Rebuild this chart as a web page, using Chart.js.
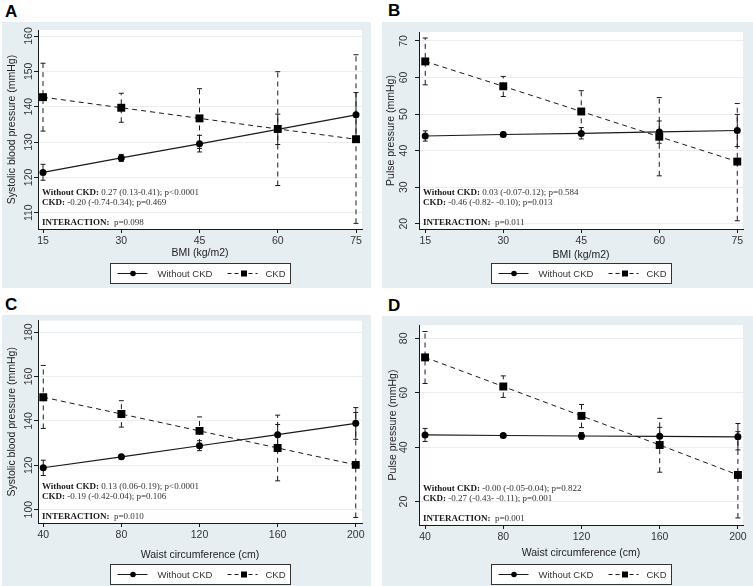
<!DOCTYPE html>
<html>
<head>
<meta charset="utf-8">
<script src="https://cdn.jsdelivr.net/npm/chart.js@4.4.1/dist/chart.umd.min.js"></script>
<style>
  body { margin: 0; width: 753px; height: 586px; position: relative; overflow: hidden; background: #fff; font-family: "Liberation Sans", Arial, sans-serif; }
  .lbl { position: absolute; font-weight: bold; font-size: 17px; color: #000; line-height: 17px; }
  .box { position: absolute; background: #e7eef2; }
</style>
</head>
<body>
<div class="lbl" style="left:5px;top:3px">A</div>
<div class="lbl" style="left:388px;top:2px">B</div>
<div class="lbl" style="left:5px;top:296px">C</div>
<div class="lbl" style="left:388px;top:297px">D</div>
<div class="box" style="left:2px;top:22px;width:369px;height:266px"><canvas id="chartA"></canvas></div>
<div class="box" style="left:382px;top:22px;width:371px;height:266px"><canvas id="chartB"></canvas></div>
<div class="box" style="left:2px;top:315px;width:369px;height:271px"><canvas id="chartC"></canvas></div>
<div class="box" style="left:382px;top:316px;width:371px;height:270px"><canvas id="chartD"></canvas></div>
<script>
// x categories
const bmi = [15, 30, 45, 60, 75];
const waist = [40, 80, 120, 160, 200];

// tick labels
const bmiTicks = [15, 30, 45, 60, 75];
const waistTicks = [40, 80, 120, 160, 200];
const sbpBmiTicks = [110, 120, 130, 140, 150, 160];
const ppBmiTicks = [20, 30, 40, 50, 60, 70];
const sbpWaistTicks = [100, 120, 140, 160, 180];
const ppWaistTicks = [20, 40, 60, 80];

// A: systolic BP by BMI
const sbpBmiNo = [121.4, 125.5, 129.5, 133.6, 137.7];
const sbpBmiNoLo = [119.2, 124.5, 127.2, 129.3, 131.4];
const sbpBmiNoHi = [123.7, 126.5, 131.9, 137.9, 144.0];
const sbpBmiCkd = [142.7, 139.7, 136.7, 133.7, 130.8];
const sbpBmiCkdLo = [133.1, 135.6, 128.2, 117.7, 107.0];
const sbpBmiCkdHi = [152.3, 143.8, 145.1, 149.9, 154.7];

// B: pulse pressure by BMI
const ppBmiNo = [44.0, 44.4, 44.7, 45.1, 45.5];
const ppBmiNoLo = [42.6, 43.8, 43.2, 42.0, 41.1];
const ppBmiNoHi = [45.4, 45.0, 46.3, 48.1, 49.9];
const ppBmiCkd = [64.4, 57.6, 50.7, 43.8, 37.0];
const ppBmiCkdLo = [58.0, 54.8, 45.0, 33.1, 20.8];
const ppBmiCkdHi = [70.8, 60.3, 56.4, 54.5, 52.9];

// C: systolic BP by waist
const sbpWaistNo = [118.9, 123.8, 128.8, 133.8, 138.9];
const sbpWaistNoLo = [115.4, 122.8, 126.6, 129.2, 131.7];
const sbpWaistNoHi = [122.3, 124.8, 131.1, 138.4, 146.0];
const sbpWaistCkd = [150.7, 143.1, 135.5, 127.8, 120.2];
const sbpWaistCkdLo = [136.6, 137.2, 129.6, 113.0, 96.5];
const sbpWaistCkdHi = [165.0, 149.1, 141.8, 142.6, 143.8];

// D: pulse pressure by waist
const ppWaistNo = [44.5, 44.3, 44.1, 44.0, 43.8];
const ppWaistNoLo = [42.1, 43.7, 42.9, 40.7, 39.0];
const ppWaistNoHi = [46.9, 44.9, 45.4, 47.3, 48.7];
const ppWaistCkd = [73.0, 62.3, 51.5, 40.8, 29.8];
const ppWaistCkdLo = [63.4, 58.3, 47.2, 30.8, 14.0];
const ppWaistCkdHi = [82.5, 66.2, 55.7, 50.6, 45.7];

const stats = {
  A: [' 0.27 (0.13-0.41); p<0.0001', ' -0.20 (-0.74-0.34); p=0.469', '  p=0.098'],
  B: [' 0.03 (-0.07-0.12); p=0.584', ' -0.46 (-0.82- -0.10); p=0.013', '  p=0.011'],
  C: [' 0.13 (0.06-0.19); p<0.0001', ' -0.19 (-0.42-0.04); p=0.106', '  p=0.010'],
  D: [' -0.00 (-0.05-0.04); p=0.822', ' -0.27 (-0.43- -0.11); p=0.001', '  p=0.001']
};

const SANS = '"Liberation Sans", Arial, sans-serif';
const SERIF = '"Liberation Serif", "Times New Roman", serif';
const INK = '#1a1a1a';

function makePanel(id, p) {
  const sets = [
    { label: 'Without CKD', y: p.no, lo: p.noLo, hi: p.noHi, dash: [] },
    { label: 'CKD', y: p.ckd, lo: p.ckdLo, hi: p.ckdHi, dash: [5, 4] }
  ];

  const extras = {
    id: 'extras',
    beforeDraw(chart) {
      const a = chart.chartArea, ctx = chart.ctx;
      ctx.save();
      ctx.fillStyle = '#fff';
      ctx.fillRect(a.left, a.top, a.right - a.left, a.bottom - a.top);
      ctx.restore();
    },
    beforeDatasetsDraw(chart) {
      const ctx = chart.ctx, xs = chart.scales.x, ys = chart.scales.y;
      ctx.save();
      ctx.strokeStyle = INK;
      ctx.lineWidth = 1;
      sets.forEach(s => {
        p.x.forEach((xv, i) => {
          const px = xs.getPixelForValue(xv);
          const y1 = ys.getPixelForValue(s.lo[i]);
          const y2 = ys.getPixelForValue(s.hi[i]);
          ctx.setLineDash(s.dash);
          ctx.beginPath();
          ctx.moveTo(px, y1);
          ctx.lineTo(px, y2);
          ctx.stroke();
          ctx.setLineDash([]);
          ctx.beginPath();
          ctx.moveTo(px - 2.5, y1); ctx.lineTo(px + 2.5, y1);
          ctx.moveTo(px - 2.5, y2); ctx.lineTo(px + 2.5, y2);
          ctx.stroke();
        });
      });
      ctx.restore();
    },
    afterDraw(chart) {
      const ctx = chart.ctx, a = chart.chartArea, ys = chart.scales.y;
      ctx.save();
      // rotated y tick labels
      ctx.fillStyle = '#333';
      ctx.font = '10.5px ' + SANS;
      ctx.textAlign = 'center';
      ctx.textBaseline = 'middle';
      p.yTicks.forEach(v => {
        const py = ys.getPixelForValue(v);
        ctx.save();
        ctx.translate(a.left + p.yLabX, py);
        ctx.rotate(-Math.PI / 2);
        ctx.fillText(String(v), 0, 0);
        ctx.restore();
      });
      // regression text
      const heads = ['Without CKD:', 'CKD:', 'INTERACTION:'];
      const offs = [36, 26, 6];
      ctx.textAlign = 'left';
      heads.forEach((h, i) => {
        const tx = a.left + 4, ty = a.bottom - offs[i];
        ctx.font = 'bold 9px ' + SERIF;
        ctx.fillStyle = INK;
        ctx.fillText(h, tx, ty);
        const w = ctx.measureText(h).width;
        ctx.font = '9px ' + SERIF;
        ctx.fillStyle = '#333';
        ctx.fillText(p.stats[i], tx + w, ty);
      });
      // legend
      const bw = 180, bh = 20;
      const bx = Math.round((a.left + a.right) / 2 - bw / 2) + 0.5;
      const by = Math.round(a.bottom + p.legTop) + 0.5;
      ctx.fillStyle = '#fff';
      ctx.fillRect(bx, by, bw, bh);
      ctx.strokeStyle = '#333';
      ctx.lineWidth = 1;
      ctx.strokeRect(bx, by, bw, bh);
      const my = by + bh / 2;
      ctx.strokeStyle = INK;
      ctx.beginPath(); ctx.moveTo(bx + 7, my); ctx.lineTo(bx + 37, my); ctx.stroke();
      ctx.fillStyle = '#000';
      ctx.beginPath(); ctx.arc(bx + 22.5, my, 2.8, 0, Math.PI * 2); ctx.fill();
      ctx.setLineDash([4, 3]);
      ctx.beginPath(); ctx.moveTo(bx + 117, my); ctx.lineTo(bx + 147, my); ctx.stroke();
      ctx.setLineDash([]);
      ctx.fillRect(bx + 130.5, my - 3, 6, 6);
      ctx.fillStyle = '#333';
      ctx.font = '9.5px ' + SANS;
      ctx.textBaseline = 'middle';
      ctx.fillText('Without CKD', bx + 47, my + 0.5);
      ctx.fillText('CKD', bx + 155, my + 0.5);
      ctx.restore();
    }
  };

  new Chart(document.getElementById(id), {
    type: 'line',
    data: {
      datasets: [
        {
          label: 'Without CKD',
          data: p.x.map((v, i) => ({ x: v, y: p.no[i] })),
          borderColor: INK,
          borderWidth: 1.2,
          pointStyle: 'circle',
          pointRadius: 3.5,
          pointBackgroundColor: '#000',
          pointBorderWidth: 0,
          tension: 0
        },
        {
          label: 'CKD',
          data: p.x.map((v, i) => ({ x: v, y: p.ckd[i] })),
          borderColor: INK,
          borderWidth: 1,
          borderDash: [5, 4],
          pointStyle: 'rect',
          pointRadius: 5.6,
          pointBackgroundColor: '#000',
          pointBorderWidth: 0,
          tension: 0
        }
      ]
    },
    options: {
      responsive: true,
      maintainAspectRatio: false,
      animation: false,
      layout: { padding: { left: 0, top: p.padTop, right: p.padRight, bottom: p.padBottom } },
      plugins: { legend: { display: false }, tooltip: { enabled: false } },
      scales: {
        x: {
          type: 'linear',
          min: p.xMin,
          max: p.xMax,
          afterBuildTicks: s => { s.ticks = p.xTicks.map(v => ({ value: v })); },
          afterFit: s => { s.height = p.xHeight; },
          grid: { drawOnChartArea: false, tickColor: INK, tickLength: 4 },
          border: { color: INK, width: 1 },
          ticks: { padding: 2, color: '#333', font: { family: SANS, size: 10.5 } },
          title: { display: true, text: p.xTitle, color: '#222', font: { family: SANS, size: 10.5 }, padding: 0 }
        },
        y: {
          type: 'linear',
          min: p.yMin,
          max: p.yMax,
          afterBuildTicks: s => { s.ticks = p.yTicks.map(v => ({ value: v })); },
          afterFit: s => { s.width = p.yWidth; },
          grid: { color: '#ebeef0', tickColor: INK, tickLength: 4 },
          border: { color: INK, width: 1 },
          ticks: { display: false },
          title: { display: true, text: p.yTitle, color: '#222', font: { family: SANS, size: 10.5 }, padding: { top: p.yTitlePad, bottom: 0 } }
        }
      }
    },
    plugins: [extras]
  });
}

makePanel('chartA', {
  x: bmi, xTicks: bmiTicks, xMin: 14.04, xMax: 76.15, xTitle: 'BMI (kg/m2)',
  yTicks: sbpBmiTicks, yMin: 105.4, yMax: 161.7, yTitle: 'Systolic blood pressure (mmHg)',
  no: sbpBmiNo, noLo: sbpBmiNoLo, noHi: sbpBmiNoHi,
  ckd: sbpBmiCkd, ckdLo: sbpBmiCkdLo, ckdHi: sbpBmiCkdHi,
  stats: stats.A,
  yWidth: 36, padTop: 8, padRight: 9, xHeight: 30.5, padBottom: 28.5,
  yLabX: -9, yTitlePad: 3.7, legTop: 34
});
makePanel('chartB', {
  x: bmi, xTicks: bmiTicks, xMin: 13.8, xMax: 76.1, xTitle: 'BMI (kg/m2)',
  yTicks: ppBmiTicks, yMin: 18.55, yMax: 72.45, yTitle: 'Pulse pressure (mmHg)',
  no: ppBmiNo, noLo: ppBmiNoLo, noHi: ppBmiNoHi,
  ckd: ppBmiCkd, ckdLo: ppBmiCkdLo, ckdHi: ppBmiCkdHi,
  stats: stats.B,
  yWidth: 37, padTop: 10, padRight: 10, xHeight: 32.5, padBottom: 26.5,
  yLabX: -15, yTitlePad: 2.7, legTop: 34
});
makePanel('chartC', {
  x: waist, xTicks: waistTicks, xMin: 37.3, xMax: 203.2, xTitle: 'Waist circumference (cm)',
  yTicks: sbpWaistTicks, yMin: 94.0, yMax: 185.2, yTitle: 'Systolic blood pressure (mmHg)',
  no: sbpWaistNo, noLo: sbpWaistNoLo, noHi: sbpWaistNoHi,
  ckd: sbpWaistCkd, ckdLo: sbpWaistCkdLo, ckdHi: sbpWaistCkdHi,
  stats: stats.C,
  yWidth: 36, padTop: 5, padRight: 9, xHeight: 38.5, padBottom: 24.5,
  yLabX: -9, yTitlePad: 3.4, legTop: 41
});
makePanel('chartD', {
  x: waist, xTicks: waistTicks, xMin: 36.9, xMax: 202.6, xTitle: 'Waist circumference (cm)',
  yTicks: ppWaistTicks, yMin: 11.4, yMax: 84.9, yTitle: 'Pulse pressure (mmHg)',
  no: ppWaistNo, noLo: ppWaistNoLo, noHi: ppWaistNoHi,
  ckd: ppWaistCkd, ckdLo: ppWaistCkdLo, ckdHi: ppWaistCkdHi,
  stats: stats.D,
  yWidth: 37, padTop: 9, padRight: 10, xHeight: 34.5, padBottom: 26.5,
  yLabX: -15, yTitlePad: 4.4, legTop: 39
});
</script>
</body>
</html>
